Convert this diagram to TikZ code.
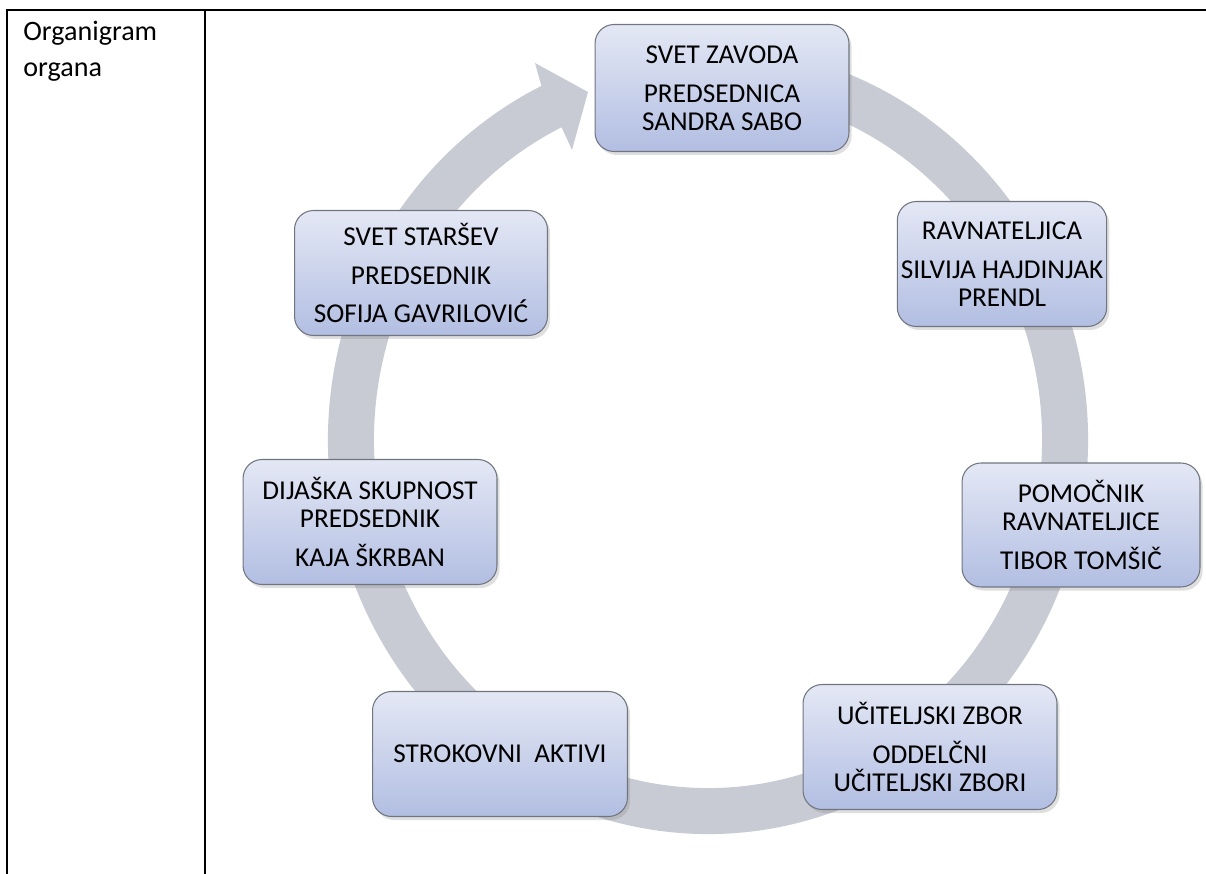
\documentclass[tikz,border=0pt]{standalone}
\usepackage{fontspec}
\setmainfont{Carlito}
\usetikzlibrary{calc,shadows}
\definecolor{ringgrey}{RGB}{201,203,212}
\definecolor{boxline}{RGB}{112,117,128}
\definecolor{boxtop}{RGB}{228,232,245}
\definecolor{boxbottom}{RGB}{178,190,226}
\tikzset{
	organ/.style={draw=boxline, line width=0.6pt, rounded corners=0.38cm,
		top color=boxtop, bottom color=boxbottom, align=center,
		font=\fontsize{15.5}{16}\selectfont, inner sep=2pt, minimum height=2.5cm,
		drop shadow={opacity=0.25, shadow xshift=1.5pt, shadow yshift=-2pt}},
	rule/.style={line width=1.4pt}
}
\begin{document}
\begin{tikzpicture}[x=0.02cm, y=0.02cm]
	\useasboundingbox (0,0) rectangle (1206,-874);
	\draw [rule] (7,-874) -- (7,-10) -- (1206,-10);
	\draw [rule] (205,-10) -- (205,-874);
	\node (title) [anchor=north west, inner sep=0pt, align=left, font=\fontsize{16}{20.4}\selectfont] at (23,-21) {Organigram\\organa};
	\coordinate (hub) at (708,-440);
	\fill [ringgrey] ($(hub)+(75:380 and 394)$) arc [start angle=75, end angle=-244, x radius=380, y radius=394]
		-- (535,-63) -- (588,-92) -- (572,-150)
		-- ($(hub)+(116:334 and 348)$) arc [start angle=116, end angle=435, x radius=334, y radius=348] -- cycle;
	\node (zavod) [organ, minimum width=5.08cm, minimum height=2.54cm] at (722,-88) {SVET ZAVODA\\[6pt] PREDSEDNICA\\SANDRA SABO};
	\node (ravn) [organ, minimum width=4.1cm] at (1002,-264) {RAVNATELJICA\\[6pt] SILVIJA HAJDINJAK\\PRENDL};
	\node (pomoc) [organ, minimum width=4.76cm, minimum height=2.48cm] at (1081,-525) {POMOČNIK\\RAVNATELJICE\\[6pt] TIBOR TOMŠIČ};
	\node (ucit) [organ, minimum width=5.08cm] at (930,-747) {UČITELJSKI ZBOR\\[6pt] ODDELČNI\\UČITELJSKI ZBORI};
	\node (strok) [organ, minimum width=5.1cm] at (500,-754) {STROKOVNI\ \ AKTIVI};
	\node (dijas) [organ, minimum width=5.08cm] at (370,-522) {DIJAŠKA SKUPNOST\\PREDSEDNIK\\[6pt] KAJA ŠKRBAN};
	\node (stars) [organ, minimum width=5.06cm] at (421,-273) {SVET STARŠEV\\[6pt] PREDSEDNIK\\[6pt] SOFIJA GAVRILOVIĆ};
\end{tikzpicture}
\end{document}
